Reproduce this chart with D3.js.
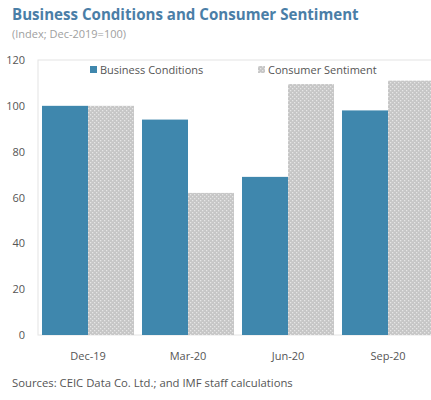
<!DOCTYPE html>
<html><head><meta charset="utf-8">
<script src="https://cdn.jsdelivr.net/npm/d3@7"></script>
<style>body{margin:0;background:#fff;}svg{display:block;font-family:"Open Sans",sans-serif;}</style>
</head><body><svg id="c" width="431" height="400"></svg>
<script>
const categories = ["Dec-19","Mar-20","Jun-20","Sep-20"];
const businessConditions = [100, 94, 69, 98];
const consumerSentiment = [100, 62, 109.5, 111];
const seriesNames = ["Business Conditions","Consumer Sentiment"];
const yTicks = [0,20,40,60,80,100,120];

const svg = d3.select("#c");
const m = {left:38, top:60, right:438, bottom:335};
const x = d3.scaleBand().domain(categories).range([m.left, m.right]).paddingInner(0.08).paddingOuter(0.04);
const x1 = d3.scaleBand().domain([0,1]).range([0, x.bandwidth()]);
const y = d3.scaleLinear().domain([0,120]).range([m.bottom, m.top]);

const defs = svg.append("defs");
const pat = defs.append("pattern").attr("id","chk").attr("width",4).attr("height",4).attr("patternUnits","userSpaceOnUse");
pat.append("rect").attr("width",4).attr("height",4).attr("fill","#c6c6c6");
pat.append("rect").attr("x",0).attr("y",0).attr("width",1.3).attr("height",1.3).attr("fill","#e6e6e6");
pat.append("rect").attr("x",2).attr("y",2).attr("width",1.3).attr("height",1.3).attr("fill","#e6e6e6");

svg.append("text").attr("x",12).attr("y",20).attr("font-size",15.1).attr("font-weight","bold").attr("fill","#4a7ea7").text("Business Conditions and Consumer Sentiment");
svg.append("text").attr("x",12).attr("y",38).attr("font-size",11).attr("fill","#a0a0a0").text("(Index; Dec-2019=100)");

svg.append("rect").attr("x",m.left).attr("y",m.top).attr("width",m.right-m.left).attr("height",m.bottom-m.top).attr("fill","none").attr("stroke","#e4e4e4").attr("stroke-width",1);

const yAxis = svg.append("g").attr("transform",`translate(${m.left},0)`).call(d3.axisLeft(y).tickValues(yTicks).tickSize(0).tickPadding(13));
yAxis.select(".domain").remove();
yAxis.selectAll("text").attr("font-size",11).attr("fill","#555").attr("font-family","'Open Sans',sans-serif");

const g = svg.append("g");
categories.forEach((c,i)=>{
  g.append("rect").attr("x",x(c)+x1(0)).attr("width",x1.bandwidth()).attr("y",y(businessConditions[i])).attr("height",y(0)-y(businessConditions[i])).attr("fill","#3f87ad");
  g.append("rect").attr("x",x(c)+x1(1)).attr("width",x1.bandwidth()).attr("y",y(consumerSentiment[i])).attr("height",y(0)-y(consumerSentiment[i])).attr("fill","url(#chk)");
});

const xAxis = svg.append("g").attr("transform",`translate(0,${m.bottom})`).call(d3.axisBottom(x).tickSize(0).tickPadding(17));
xAxis.select(".domain").remove();
xAxis.selectAll("text").attr("font-size",11).attr("fill","#555").attr("font-family","'Open Sans',sans-serif");

// legend
const leg = [{x:90, fill:"#3f87ad", name:seriesNames[0]},{x:258, fill:"url(#chk)", name:seriesNames[1]}];
leg.forEach(l=>{
  svg.append("rect").attr("x",l.x).attr("y",66).attr("width",7).attr("height",7).attr("fill",l.fill);
  svg.append("text").attr("x",l.x+10).attr("y",73.5).attr("font-size",11).attr("fill","#555").text(l.name);
});

svg.append("text").attr("x",12).attr("y",387).attr("font-size",11.3).attr("fill","#555").text("Sources: CEIC Data Co. Ltd.; and IMF staff calculations");
</script></body></html>
